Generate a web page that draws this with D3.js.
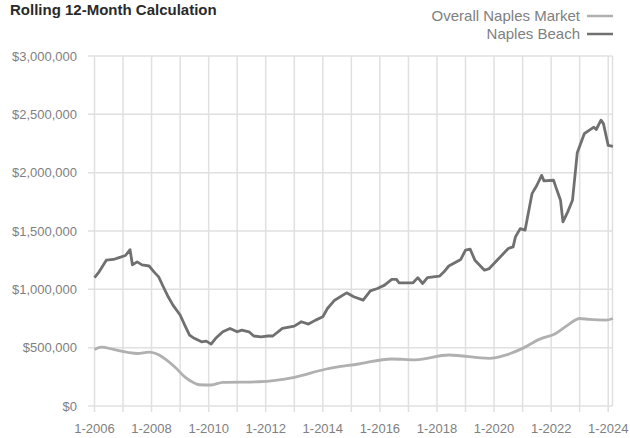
<!DOCTYPE html>
<html>
<head>
<meta charset="utf-8">
<script src="https://cdn.jsdelivr.net/npm/d3@7"></script>
<style>
  body { margin: 0; background: #fff; }
  text { font-family: "Liberation Sans", Arial, sans-serif; }
</style>
</head>
<body>
<script>
// Naples Beach, rolling 12-month
const beachDates = ["2006-01","2006-03","2006-06","2006-09","2006-11","2007-02","2007-04","2007-05","2007-07","2007-09",
  "2007-12","2008-02","2008-04","2008-06","2008-08","2008-10","2009-01","2009-03","2009-05","2009-07",
  "2009-10","2009-12","2010-02","2010-04","2010-07","2010-10","2011-01","2011-03","2011-06","2011-08",
  "2011-11","2012-02","2012-04","2012-08","2013-01","2013-04","2013-07","2013-10","2014-01","2014-03",
  "2014-06","2014-11","2015-02","2015-06","2015-09","2015-12","2016-03","2016-06","2016-08","2016-09",
  "2017-03","2017-05","2017-07","2017-09","2018-02","2018-04","2018-06","2018-11","2019-01","2019-03",
  "2019-05","2019-09","2019-11","2020-03","2020-07","2020-09","2020-10","2020-12","2021-02","2021-05",
  "2021-07","2021-09","2021-10","2022-02","2022-03","2022-05","2022-06","2022-08","2022-10","2022-12",
  "2023-03","2023-05","2023-07","2023-08","2023-10","2023-11","2024-01","2024-03"];
const beachValues = [1100000,1150000,1250000,1256000,1270000,1290000,1340000,1210000,1235000,1210000,
  1200000,1150000,1107000,1020000,936000,865000,780000,693000,608000,580000,
  550000,556000,530000,580000,636000,665000,636000,650000,636000,600000,
  593000,600000,600000,665000,685000,722000,702000,736000,765000,836000,
  907000,970000,936000,907000,987000,1007000,1036000,1085000,1085000,1056000,
  1056000,1100000,1050000,1100000,1113000,1150000,1200000,1256000,1336000,1345000,
  1250000,1164000,1178000,1264000,1350000,1364000,1450000,1520000,1507000,1820000,
  1890000,1977000,1930000,1935000,1878000,1763000,1578000,1664000,1763000,2170000,
  2334000,2363000,2390000,2370000,2450000,2420000,2234000,2226000];

// Overall Naples Market
const marketDates = ["2006-01","2006-04","2006-09","2007-03","2007-07","2007-12","2008-04","2008-07","2008-11","2009-03",
  "2009-06","2009-09","2010-02","2010-07","2011-10","2013-01","2014-02","2015-04","2016-06","2017-04",
  "2018-06","2019-11","2020-06","2021-01","2021-08","2022-03","2022-08","2023-01","2023-05","2023-12","2024-03"];
const marketValues = [485000,505000,485000,460000,450000,462000,440000,400000,330000,250000,
  208000,182000,180000,203000,208000,246000,315000,360000,403000,396000,
  437000,408000,437000,494000,571000,622000,693000,750000,742000,736000,750000];

const yTicks = [0, 500000, 1000000, 1500000, 2000000, 2500000, 3000000];
const xTickYears = d3.range(2006, 2025);
const xLabelYears = [2006, 2008, 2010, 2012, 2014, 2016, 2018, 2020, 2022, 2024];

const W = 630, H = 438;
const parse = d3.timeParse("%Y-%m");

const svg = d3.select("body").append("svg").attr("width", W).attr("height", H);

const x = d3.scaleTime()
  .domain([new Date(2006, 0, 1), new Date(2024, 0, 1)])
  .range([94.5, 608.2]);
const y = d3.scaleLinear().domain([0, 3000000]).range([406, 56]);

const plotLeft = 88, plotRight = 612.5;

// grid
const grid = svg.append("g").attr("stroke", "#e0e0e0").attr("stroke-width", 1.5);
grid.selectAll("line.h").data(yTicks).enter().append("line")
  .attr("x1", plotLeft).attr("x2", plotRight)
  .attr("y1", d => y(d)).attr("y2", d => y(d));
grid.selectAll("line.v").data(xTickYears).enter().append("line")
  .attr("x1", d => x(new Date(d, 0, 1))).attr("x2", d => x(new Date(d, 0, 1)))
  .attr("y1", y(3000000)).attr("y2", y(0) + 6);
grid.append("line")
  .attr("x1", plotRight).attr("x2", plotRight)
  .attr("y1", y(3000000)).attr("y2", y(0));

// y labels
const money = d3.format("$,");
svg.append("g").selectAll("text").data(yTicks).enter().append("text")
  .attr("x", 77).attr("y", d => y(d)).attr("dy", "0.35em")
  .attr("text-anchor", "end").attr("font-size", 13).attr("fill", "#808080")
  .text(d => money(d));

// x labels
svg.append("g").selectAll("text").data(xLabelYears).enter().append("text")
  .attr("x", d => x(new Date(d, 0, 1))).attr("y", 433)
  .attr("text-anchor", "middle").attr("font-size", 13).attr("fill", "#808080")
  .text(d => "1-" + d);

// lines
const market = marketDates.map((d, i) => ({ date: parse(d), value: marketValues[i] }));
const beach = beachDates.map((d, i) => ({ date: parse(d), value: beachValues[i] }));

svg.append("path").datum(market)
  .attr("fill", "none").attr("stroke", "#b0b0b0").attr("stroke-width", 2.8)
  .attr("d", d3.line().x(d => x(d.date)).y(d => y(d.value)).curve(d3.curveMonotoneX));

svg.append("path").datum(beach)
  .attr("fill", "none").attr("stroke", "#707070").attr("stroke-width", 2.8)
  .attr("stroke-linejoin", "round")
  .attr("d", d3.line().x(d => x(d.date)).y(d => y(d.value)));

// title
svg.append("text").attr("x", 10).attr("y", 15)
  .attr("font-size", 15).attr("font-weight", "bold").attr("fill", "#2a2a2a")
  .text("Rolling 12-Month Calculation");

// legend
const legend = [
  { label: "Overall Naples Market", color: "#b0b0b0", y: 16 },
  { label: "Naples Beach", color: "#707070", y: 34 }
];
const lg = svg.append("g");
lg.selectAll("text").data(legend).enter().append("text")
  .attr("x", 580).attr("y", d => d.y).attr("dy", "0.35em")
  .attr("text-anchor", "end").attr("font-size", 15).attr("fill", "#808080")
  .text(d => d.label);
lg.selectAll("line").data(legend).enter().append("line")
  .attr("x1", 587).attr("x2", 613).attr("y1", d => d.y).attr("y2", d => d.y)
  .attr("stroke", d => d.color).attr("stroke-width", 2.5);
</script>
</body>
</html>
